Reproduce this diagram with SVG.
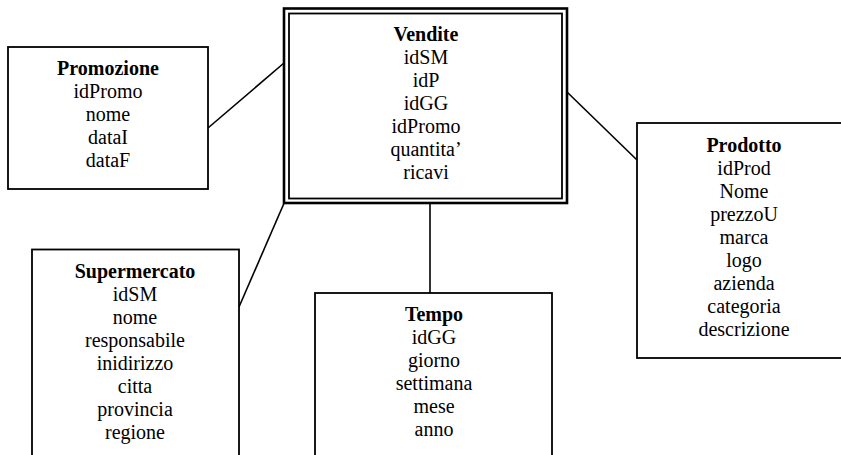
<svg xmlns="http://www.w3.org/2000/svg" width="841" height="455" viewBox="0 0 841 455">
  <style>
    .box { fill: #ffffff; stroke: #000000; stroke-width: 1.8; }
    .dbl-out { fill: #ffffff; stroke: #000000; stroke-width: 2.6; }
    .dbl-in { fill: none; stroke: #000000; stroke-width: 1.8; }
    .link { stroke: #000000; stroke-width: 1.6; fill: none; }
    text { font-family: "Liberation Serif", "Times New Roman", serif; font-size: 20px; fill: #000000; text-anchor: middle; }
    .title { font-weight: bold; }
  </style>
  <rect width="841" height="455" fill="#ffffff"/>

  <!-- connectors between the fact table and its dimensions -->
  <g id="connectors">
    <line class="link" x1="208" y1="128" x2="284" y2="63"/>
    <line class="link" x1="239" y1="307" x2="285" y2="201"/>
    <line class="link" x1="430" y1="204" x2="430" y2="293"/>
    <line class="link" x1="567" y1="92" x2="637" y2="160"/>
  </g>

  <!-- fact table -->
  <g id="vendite">
    <rect class="dbl-out" x="284" y="8.5" width="283" height="194.5"/>
    <rect class="dbl-in" x="289" y="13.5" width="273" height="185"/>
    <text x="426" y="41" class="title">Vendite</text>
    <text x="426" y="64">idSM</text>
    <text x="426" y="87">idP</text>
    <text x="426" y="110">idGG</text>
    <text x="426" y="133">idPromo</text>
    <text x="426" y="156">quantita’</text>
    <text x="426" y="179">ricavi</text>
  </g>

  <g id="promozione">
    <rect class="box" x="8" y="47" width="200" height="142"/>
    <text x="108" y="75" class="title">Promozione</text>
    <text x="108" y="98">idPromo</text>
    <text x="108" y="121">nome</text>
    <text x="108" y="144">dataI</text>
    <text x="108" y="167">dataF</text>
  </g>

  <g id="supermercato">
    <rect class="box" x="32" y="249.5" width="207" height="230"/>
    <text x="135" y="278" class="title">Supermercato</text>
    <text x="135" y="301">idSM</text>
    <text x="135" y="324">nome</text>
    <text x="135" y="347">responsabile</text>
    <text x="135" y="370">inidirizzo</text>
    <text x="135" y="393">citta</text>
    <text x="135" y="416">provincia</text>
    <text x="135" y="439">regione</text>
  </g>

  <g id="tempo">
    <rect class="box" x="315" y="293" width="237" height="190"/>
    <text x="434" y="321" class="title">Tempo</text>
    <text x="434" y="344">idGG</text>
    <text x="434" y="367">giorno</text>
    <text x="434" y="390">settimana</text>
    <text x="434" y="413">mese</text>
    <text x="434" y="436">anno</text>
  </g>

  <g id="prodotto">
    <rect class="box" x="637" y="123" width="220" height="235"/>
    <text x="744" y="152" class="title">Prodotto</text>
    <text x="744" y="175">idProd</text>
    <text x="744" y="198">Nome</text>
    <text x="744" y="221">prezzoU</text>
    <text x="744" y="244">marca</text>
    <text x="744" y="267">logo</text>
    <text x="744" y="290">azienda</text>
    <text x="744" y="313">categoria</text>
    <text x="744" y="336">descrizione</text>
  </g>
</svg>
